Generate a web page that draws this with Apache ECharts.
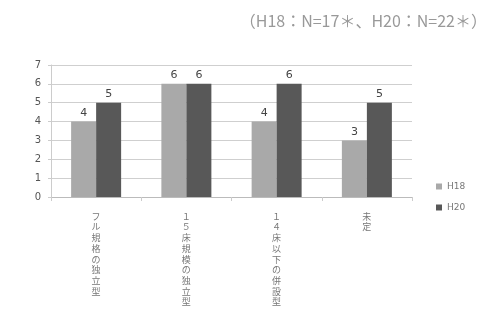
<!DOCTYPE html>
<html>
<head>
<meta charset="utf-8">
<style>
  html, body { margin: 0; padding: 0; background: #fff; }
  #chart { width: 486px; height: 323px; }
</style>
<script src="https://cdn.jsdelivr.net/npm/echarts@6/dist/echarts.min.js"></script>
</head>
<body>
<div id="chart"></div>
<script>
// Facility types (vertical labels, one character per line)
var categories = ['フル規格の独立型', '１５床規模の独立型', '１４床以下の併設型', '未定'];
var seriesNames = ['H18', 'H20'];
var valuesH18 = [4, 6, 4, 3];
var valuesH20 = [5, 6, 6, 5];
var yTicks = [0, 1, 2, 3, 4, 5, 6, 7];
var subtitle = '（H18：N=17＊、H20：N=22＊）';

var chart = echarts.init(document.getElementById('chart'), null, { renderer: 'canvas' });

var labelStyle = {
  show: true,
  position: 'top',
  distance: 3,
  color: '#444',
  fontSize: 11,
  fontFamily: 'DejaVu Sans'
};

chart.setOption({
  animation: false,
  backgroundColor: '#fff',
  title: {
    text: subtitle,
    right: -6,
    top: 8,
    textStyle: { color: '#999', fontSize: 16, fontWeight: 'normal', fontFamily: 'Noto Sans CJK JP' }
  },
  legend: {
    orient: 'vertical',
    left: 431,
    top: 177,
    itemWidth: 6,
    itemHeight: 6,
    itemGap: 12,
    icon: 'rect',
    textStyle: { color: '#777', fontSize: 9, fontFamily: 'DejaVu Sans' },
    data: seriesNames
  },
  grid: { left: 51, right: 74, top: 65, bottom: 126, containLabel: false },
  xAxis: {
    type: 'category',
    data: categories,
    axisLine: { show: true, lineStyle: { color: '#bbb' } },
    axisTick: { show: true, length: 4, lineStyle: { color: '#ccc' } },
    axisLabel: {
      interval: 0,
      margin: 14,
      color: '#777',
      fontSize: 9,
      lineHeight: 10.7,
      fontFamily: 'Noto Sans CJK JP',
      verticalAlign: 'top',
      formatter: function (v) { return v.split('').join('\n'); }
    }
  },
  yAxis: {
    type: 'value',
    min: yTicks[0],
    max: yTicks[yTicks.length - 1],
    interval: 1,
    axisLine: { show: true, lineStyle: { color: '#ccc' } },
    axisTick: { show: true, length: 3, lineStyle: { color: '#ccc' } },
    splitLine: { show: true, lineStyle: { color: '#cfcfcf', width: 1 } },
    axisLabel: { color: '#555', fontSize: 10, margin: 10, fontFamily: 'DejaVu Sans' }
  },
  series: [
    {
      name: seriesNames[0],
      type: 'bar',
      data: valuesH18,
      barWidth: 25,
      barGap: '0%',
      itemStyle: { color: '#a9a9a9' },
      label: labelStyle
    },
    {
      name: seriesNames[1],
      type: 'bar',
      data: valuesH20,
      barWidth: 25,
      itemStyle: { color: '#585858' },
      label: labelStyle
    }
  ]
});
</script>
</body>
</html>
